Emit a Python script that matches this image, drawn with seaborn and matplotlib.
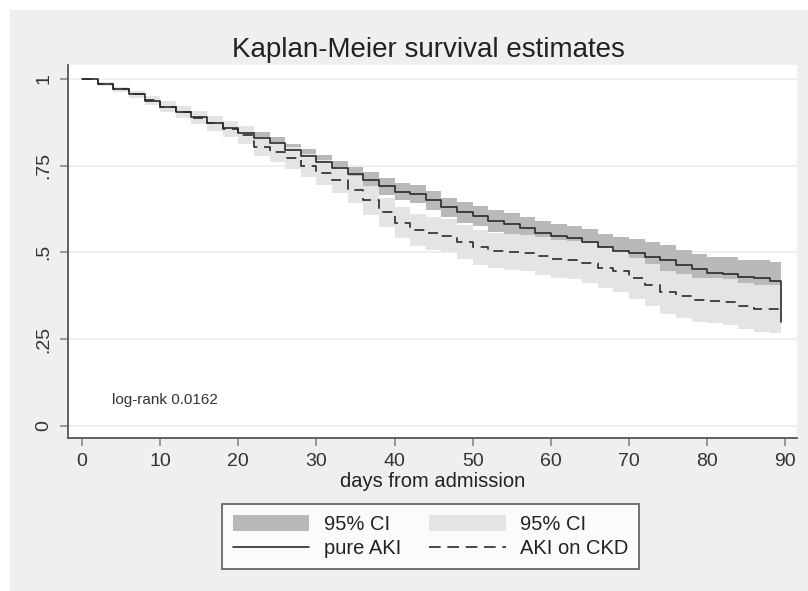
# plot.py
# Kaplan-Meier survival curves (pure AKI vs AKI on CKD) with 95% CI bands

import matplotlib
matplotlib.use("Agg")  # No display available
import matplotlib.pyplot as plt  # For drawing
from matplotlib.patches import Rectangle, Patch  # Background and legend patches
from matplotlib.lines import Line2D  # Legend line samples
import seaborn as sns  # For the step lines

# 1. Data
# Follow-up time (days) at which the survival estimates are read
days = [0, 2, 4, 6, 8, 10, 12, 14, 16, 18, 20, 22, 24, 26, 28, 30, 32, 34, 36, 38,
        40, 42, 44, 46, 48, 50, 52, 54, 56, 58, 60, 62, 64, 66, 68, 70, 72, 74, 76,
        78, 80, 82, 84, 86, 88, 89.5]

# pure AKI: survival estimate and 95% CI
aki_surv = [1.000, 0.985, 0.970, 0.955, 0.937, 0.920, 0.905, 0.890, 0.873, 0.858,
            0.845, 0.830, 0.815, 0.795, 0.778, 0.760, 0.742, 0.725, 0.708, 0.690,
            0.675, 0.668, 0.650, 0.630, 0.615, 0.605, 0.590, 0.582, 0.570, 0.555,
            0.548, 0.540, 0.530, 0.515, 0.505, 0.498, 0.488, 0.478, 0.465, 0.452,
            0.440, 0.438, 0.428, 0.425, 0.418, 0.300]
aki_lower = [1.000, 0.981, 0.964, 0.947, 0.928, 0.910, 0.894, 0.878, 0.860, 0.844,
             0.830, 0.814, 0.798, 0.777, 0.759, 0.740, 0.721, 0.703, 0.685, 0.666,
             0.650, 0.642, 0.623, 0.602, 0.586, 0.575, 0.559, 0.550, 0.537, 0.521,
             0.513, 0.504, 0.493, 0.477, 0.466, 0.458, 0.447, 0.436, 0.422, 0.408,
             0.394, 0.390, 0.378, 0.373, 0.364, 0.364]
aki_upper = [1.000, 0.989, 0.976, 0.963, 0.946, 0.930, 0.916, 0.902, 0.886, 0.872,
             0.860, 0.846, 0.832, 0.813, 0.797, 0.780, 0.763, 0.747, 0.731, 0.714,
             0.700, 0.694, 0.677, 0.658, 0.644, 0.635, 0.621, 0.614, 0.603, 0.589,
             0.583, 0.576, 0.567, 0.553, 0.544, 0.538, 0.529, 0.520, 0.508, 0.496,
             0.486, 0.486, 0.478, 0.477, 0.472, 0.472]

# AKI on CKD: survival estimate and 95% CI
ckd_surv = [1.000, 0.985, 0.970, 0.955, 0.938, 0.920, 0.905, 0.888, 0.872, 0.855,
            0.838, 0.805, 0.790, 0.772, 0.750, 0.730, 0.708, 0.680, 0.650, 0.615,
            0.585, 0.565, 0.555, 0.548, 0.530, 0.515, 0.505, 0.500, 0.498, 0.490,
            0.480, 0.478, 0.470, 0.455, 0.445, 0.425, 0.405, 0.385, 0.375, 0.362,
            0.360, 0.358, 0.345, 0.338, 0.338, 0.338]
ckd_lower = [1.000, 0.980, 0.962, 0.944, 0.925, 0.905, 0.888, 0.869, 0.851, 0.832,
             0.813, 0.778, 0.761, 0.741, 0.717, 0.695, 0.671, 0.641, 0.609, 0.572,
             0.540, 0.519, 0.508, 0.500, 0.481, 0.465, 0.454, 0.448, 0.445, 0.436,
             0.425, 0.422, 0.413, 0.397, 0.386, 0.365, 0.344, 0.323, 0.312, 0.298,
             0.295, 0.292, 0.278, 0.270, 0.269, 0.269]
ckd_upper = [1.000, 0.990, 0.978, 0.966, 0.951, 0.935, 0.922, 0.907, 0.893, 0.878,
             0.863, 0.832, 0.819, 0.803, 0.783, 0.765, 0.745, 0.719, 0.691, 0.658,
             0.630, 0.611, 0.602, 0.596, 0.579, 0.565, 0.556, 0.552, 0.551, 0.544,
             0.535, 0.534, 0.527, 0.513, 0.504, 0.485, 0.466, 0.447, 0.438, 0.426,
             0.425, 0.424, 0.412, 0.406, 0.407, 0.407]

# Axis ticks and labels
x_ticks = [0, 10, 20, 30, 40, 50, 60, 70, 80, 90]
y_ticks = [0, 0.25, 0.5, 0.75, 1]
y_tick_labels = ["0", ".25", ".5", ".75", "1"]
legend_labels = ["95% CI", "pure AKI", "95% CI", "AKI on CKD"]

# 2. Style
sns.set_theme(style="white")
plt.rcParams["font.family"] = ["Liberation Sans", "DejaVu Sans"]

BG_GRAY = "#efefef"
DARK_CI = "#b9b9b9"
LIGHT_CI = "#e4e4e4"
LINE = "#2b2b2b"
AXIS = "#555555"

fig = plt.figure(figsize=(8.08, 5.91), dpi=100)
fig.patch.set_facecolor("white")
# Stata-like light gray graph region (with a thin white margin top/left)
bg = Rectangle((10 / 808, 0), 1 - 10 / 808, 1 - 10 / 591,
               transform=fig.transFigure, facecolor=BG_GRAY,
               edgecolor="none", zorder=-10)
fig.add_artist(bg)

ax = fig.add_axes([68 / 808, 1 - 438 / 591, 729 / 808, 373 / 591])
ax.set_zorder(1)
ax.set_facecolor("white")

# 3. Confidence bands (light band drawn on top of the dark one)
ax.fill_between(days, aki_lower, aki_upper, step="post", color=DARK_CI, lw=0, zorder=1)
ax.fill_between(days, ckd_lower, ckd_upper, step="post", color=LIGHT_CI, lw=0, zorder=2)

# 4. Survival step lines
sns.lineplot(x=days, y=aki_surv, ax=ax, color=LINE, lw=1.2, drawstyle="steps-post",
             estimator=None, sort=False, legend=False, zorder=4)
sns.lineplot(x=days, y=ckd_surv, ax=ax, color=LINE, lw=1.2, drawstyle="steps-post",
             estimator=None, sort=False, legend=False, zorder=3)
ax.lines[-1].set_dashes((6, 4))

# 5. Axes
ax.set_xlim(-1.8, 91.5)
ax.set_ylim(-0.035, 1.04)
ax.set_xticks(x_ticks)
ax.set_yticks(y_ticks)
ax.set_yticklabels(y_tick_labels, rotation=90, va="center")
ax.grid(axis="y", color="#ececec", lw=1.2)
ax.set_axisbelow(True)
for side in ["top", "right"]:
    ax.spines[side].set_visible(False)
for side in ["left", "bottom"]:
    ax.spines[side].set_color(AXIS)
    ax.spines[side].set_linewidth(1.3)
ax.tick_params(axis="both", which="major", direction="out", length=6, width=1.2,
               color="#888888", labelsize=14, labelcolor="#333333", pad=5,
               left=True, bottom=True)
ax.set_xlabel("days from admission", fontsize=14.5, color="#222222", labelpad=1)
ax.set_ylabel("")

ax.text(3.8, 0.075, "log-rank 0.0162", fontsize=11, color="#333333",
        ha="left", va="center")

# Title
fig.text(428 / 808, 1 - 57 / 591, "Kaplan-Meier survival estimates", fontsize=20,
         color="#222222", ha="center", va="baseline")

# 6. Legend (two columns: dark CI / pure AKI, light CI / AKI on CKD)
handles = [
    Patch(facecolor=DARK_CI, edgecolor="none"),
    Line2D([], [], color=LINE, lw=1.2),
    Patch(facecolor=LIGHT_CI, edgecolor="none"),
    Line2D([], [], color=LINE, lw=1.2, dashes=(7, 4)),
]
leg = fig.legend(handles, legend_labels, loc="center", ncol=2,
                 bbox_to_anchor=(430.5 / 808, 1 - 536.5 / 591),
                 fontsize=14.5, frameon=True, fancybox=False,
                 handlelength=3.8, handleheight=0.9, handletextpad=0.7,
                 columnspacing=1.4, labelspacing=0.25, borderpad=0.55)
leg.get_frame().set_edgecolor("#444444")
leg.get_frame().set_linewidth(1.3)
leg.get_frame().set_facecolor("white")
for txt in leg.get_texts():
    txt.set_color("#222222")

fig.savefig("out.png", dpi=100, facecolor=fig.get_facecolor())
